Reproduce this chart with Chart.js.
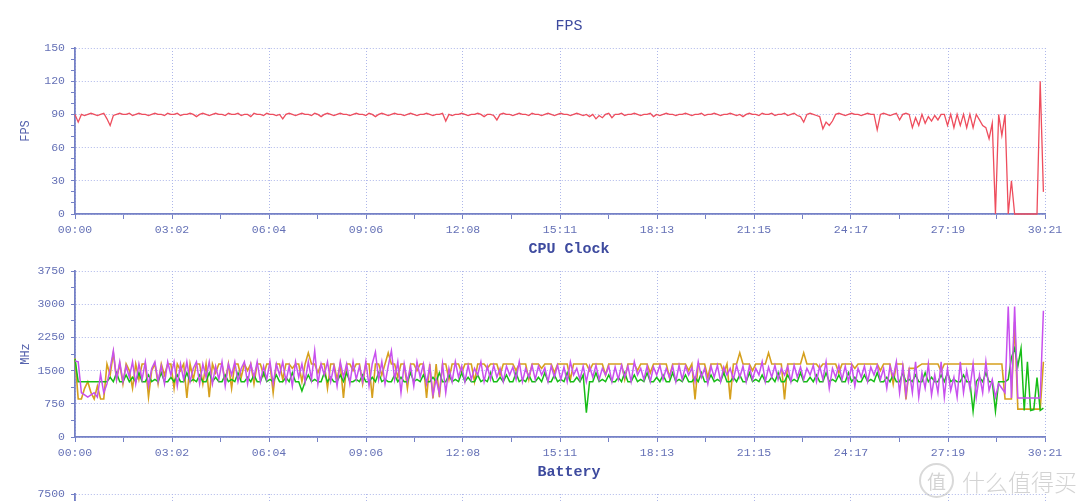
<!DOCTYPE html>
<html><head><meta charset="utf-8">
<script src="https://cdn.jsdelivr.net/npm/chart.js@4"></script>
<style>
html,body{margin:0;padding:0;background:#fff;width:1080px;height:501px;overflow:hidden;position:relative;}
.box{position:absolute;left:0;width:1080px;height:240px;}
#wm{position:absolute;left:919px;top:463px;display:flex;align-items:center;color:rgba(150,150,150,0.42);font-family:'Noto Sans CJK SC',sans-serif;}
#wm .c{width:31px;height:31px;border:2px solid rgba(170,170,170,0.45);border-radius:50%;font-size:19px;line-height:31px;text-align:center;margin-right:8px;}
#wm .t{font-size:23px;letter-spacing:0px;font-weight:300;}
</style></head><body>
<div class="box" style="top:0"><canvas id="c1"></canvas></div>
<div class="box" style="top:223px"><canvas id="c2"></canvas></div>
<div class="box" style="top:446px"><canvas id="c3"></canvas></div>
<div id="wm"><span class="c">值</span><span class="t">什么值得买</span></div>
<script>
// ---- data ----
const DURATION = 1821;          // seconds (30:21)
const STEP = 6;                 // sample interval, seconds
const xTickLabels = ['00:00','03:02','06:04','09:06','12:08','15:11','18:13','21:15','24:17','27:19','30:21'];
const fpsYTicks = [0,30,60,90,120,150];
const cpuYTicks = [0,750,1500,2250,3000,3750];
const batYTicks = [0,1500,3000,4500,6000,7500];

const fps = [
90,83,90,89,90,91,90,89,90,91,
86,80,89,90,91,90,90,91,89,90,
91,90,90,89,90,91,90,90,89,91,
90,90,91,89,90,90,91,90,88,90,
91,90,89,90,91,90,90,89,91,90,
90,91,89,90,90,88,91,90,90,89,
91,90,90,89,90,86,90,91,90,89,
90,91,90,90,89,91,90,88,90,91,
90,89,90,91,90,90,89,90,91,90,
90,89,91,90,88,90,91,90,89,90,
91,90,90,89,90,91,90,89,90,90,
91,90,89,90,90,91,84,90,89,90,
90,91,90,89,90,90,91,90,88,90,
90,89,85,90,91,90,90,89,90,91,
90,90,89,91,90,90,89,90,91,90,
89,90,91,90,90,89,90,91,90,89,
90,88,90,86,89,87,90,91,87,90,
90,91,89,90,90,91,90,89,90,90,
91,88,90,89,90,91,90,90,89,90,
90,91,90,89,90,90,91,89,90,90,
91,90,89,90,90,91,90,89,90,88,
90,91,90,90,89,91,90,90,91,89,
90,90,91,89,90,91,89,88,83,90,
91,90,89,88,77,83,80,84,90,91,
90,89,90,91,90,90,89,90,91,90,
90,76,90,91,90,89,90,91,85,90,
91,90,78,87,80,90,82,88,84,89,
85,90,90,80,90,78,90,80,90,78,
90,78,90,85,80,78,68,82,0,90,
71,90,0,30,0,0,0,0,0,0,
0,0,120,20];

const cpuGold = [
1780,860,860,1100,1250,1000,860,1150,860,860,
1650,1400,1900,1300,1650,1200,1650,1500,1100,1650,
1300,1650,1650,900,1500,1650,1200,1650,1400,1650,
1650,1100,1650,1500,1650,880,1650,1300,1650,1650,
1200,1650,900,1650,1450,1650,1650,1250,1650,1100,
1650,1650,1350,1650,1500,1650,1200,1650,1650,1400,
1650,1650,1000,1650,1650,1300,1650,1650,1550,1650,
1650,1250,1650,1900,1650,1650,1450,1650,1650,1100,
1650,1650,1300,1650,880,1650,1650,1500,1650,1650,
1200,1650,1650,880,1650,1650,1400,1650,1900,1650,
1650,1350,1650,1650,1100,1650,1650,1500,1650,1650,
880,1650,870,1650,900,1650,1650,1300,1650,1650,
1650,1450,1650,1650,1650,1250,1650,1650,1650,1550,
1650,1650,1650,1400,1650,1650,1650,1650,1500,1650,
1650,1650,1300,1650,1650,1650,1550,1650,1650,1650,
1450,1650,1650,1650,1650,1300,1650,1650,1650,1650,
1650,1500,1650,1650,1650,1650,1400,1650,1650,1650,
1650,1650,1300,1650,1650,1650,1500,1650,1650,1650,
1450,1650,1650,1650,1650,1650,1350,1650,1650,1650,
1650,1650,1500,1650,850,1650,1650,1650,1350,1650,
1650,1650,1650,1450,1650,850,1650,1650,1900,1650,
1650,1650,1500,1650,1650,1650,1650,1900,1650,1650,
1650,1650,850,1650,1650,1650,1650,1650,1900,1650,
1650,1650,1650,1550,1650,1650,1650,1650,1650,1450,
1650,1650,1650,1650,1550,1650,1650,1650,1650,1650,
1650,1650,1500,1650,1650,1650,1200,1650,1650,1650,
850,1550,1550,1550,1600,1650,1650,1650,1650,1650,
1650,1480,1650,1650,1650,1650,1650,1650,1650,1650,
1650,1650,1650,1650,1650,1650,1650,1650,1650,1650,
1650,860,860,860,2600,630,630,630,630,630,
630,630,630,1700];

const cpuViolet = [
1720,1700,1000,950,900,950,1000,900,1420,1000,
1200,1550,1950,1300,1700,1250,1600,1350,1700,1200,
1650,1300,1700,1150,1550,1700,1250,1600,1200,1700,
1400,1700,1150,1650,1300,1700,1250,1550,1700,1200,
1650,1350,1700,1200,1600,1300,1700,1150,1650,1400,
1700,1250,1550,1700,1200,1650,1350,1700,1250,1600,
1300,1700,1200,1650,1400,1700,1250,1600,1150,1700,
1350,1650,1250,1700,1300,1950,1200,1650,1400,1700,
1250,1600,1150,1700,1350,1650,1200,1700,1300,1600,
1250,1700,1150,1650,1920,1300,1700,1200,1600,1950,
1300,1700,1000,1650,1250,1600,1150,1700,1350,1650,
1200,1600,950,1300,980,1650,1000,1550,1250,1700,
1350,1600,1250,1620,1300,1550,1400,1700,1250,1600,
1300,1620,1350,1550,1250,1600,1400,1580,1300,1700,
1250,1550,1350,1620,1300,1600,1400,1560,1250,1600,
1350,1620,1300,1580,1250,1700,1400,1550,1300,1600,
1250,1600,1350,1620,1300,1550,1400,1600,1250,1580,
1300,1620,1350,1600,1250,1700,1400,1550,1300,1600,
1250,1580,1400,1620,1300,1550,1350,1600,1250,1620,
1300,1600,1400,1560,1250,1700,1350,1550,1200,1600,
1350,1620,1250,1580,1400,1550,1300,1620,1350,1600,
1250,1600,1300,1550,1400,1700,1250,1580,1350,1620,
1300,1550,1400,1600,1250,1620,1350,1580,1300,1550,
1400,1620,1250,1600,1300,1700,1100,1550,1350,1620,
1300,1600,1250,1620,1150,1550,1350,1600,1250,1580,
1400,1620,1300,1550,1100,1600,1350,1700,1000,1600,
950,1500,1000,1700,900,1450,1100,1650,950,1400,
1000,1700,900,1550,1050,1350,900,1700,1000,1500,
1100,1650,900,1400,1000,1700,1050,1300,900,1200,
1100,1000,2950,880,2950,880,880,880,880,880,
880,880,880,2850];

const cpuGreen = [
1760,1250,1250,1250,1250,1250,1250,1250,1250,1250,
1250,1350,1250,1450,1250,1250,1400,1250,1350,1250,
1450,1250,1250,1400,1250,1300,1250,1450,1250,1250,
1350,1250,1400,1250,1250,1450,1250,1300,1250,1400,
1250,1250,1450,1250,1350,1250,1250,1400,1250,1300,
1250,1450,1250,1250,1350,1250,1400,1250,1250,1450,
1250,1300,1250,1400,1250,1250,1350,1250,1450,1250,
1250,1040,1250,1400,1250,1300,1250,1250,1450,1250,
1350,1250,1250,1400,1250,1450,1250,1250,1300,1250,
1400,1250,1250,1350,1250,1450,1250,1300,1250,1250,
1400,1250,1350,1250,1250,1450,1250,1300,1250,1400,
1250,1250,1350,1250,1450,1250,1250,1400,1250,1300,
1250,1450,1250,1350,1250,1250,1400,1250,1300,1250,
1450,1250,1250,1350,1250,1400,1250,1250,1450,1250,
1300,1250,1400,1250,1250,1350,1250,1450,1250,1250,
1400,1250,1300,1250,1450,1250,1250,1350,1250,1400,
550,1250,1250,1450,1250,1300,1250,1400,1250,1250,
1350,1250,1450,1250,1250,1400,1250,1300,1250,1450,
1250,1250,1350,1250,1400,1250,1250,1450,1250,1300,
1250,1400,1250,1250,1350,1250,1450,1250,1250,1400,
1250,1300,1250,1450,1250,1250,1350,1250,1400,1250,
1250,1450,1250,1300,1250,1400,1250,1250,1350,1250,
1450,1250,1250,1400,1250,1300,1250,1450,1250,1250,
1350,1250,1400,1250,1250,1450,1250,1300,1250,1400,
1250,1250,1450,1250,1350,1250,1250,1400,1250,1300,
1250,1450,1250,1250,1350,1250,1400,1250,1250,1450,
1250,1300,1250,1400,1250,1250,1450,1250,1350,1250,
1250,1400,1250,1450,1250,1300,1250,1250,1400,1250,
1250,580,1250,1350,1250,1450,1250,1250,580,1250,
1250,1250,1300,1800,2000,1600,2000,600,1700,600,
620,1340,600,650];

// ---- styling ----
const AXIS = '#7581c6', GRID = '#aeb7ea', TICK = '#6571b6', TITLE = '#3e4b9f';
const MONO = "'Liberation Mono','DejaVu Sans Mono',monospace";
const NONE = 'rgba(0,0,0,0)';
const pts = arr => arr.map((v, i) => ({x: i * STEP, y: v}));

function xScale(){
  const n = (xTickLabels.length - 1) * 2;
  return {
    type: 'linear', min: 0, max: DURATION,
    afterBuildTicks(s){ const t = []; for (let i = 0; i <= n; i++) t.push({value: i * DURATION / n}); s.ticks = t; },
    afterFit(s){ s.height = 26; },
    ticks: {autoSkip: false, maxRotation: 0, padding: 4, color: TICK,
      font: {family: MONO, size: 11.5},
      callback: (v, i) => i % 2 === 0 ? xTickLabels[i/2] : ''},
    grid: {color: c => c.index % 2 === 0 ? GRID : NONE, tickColor: AXIS, tickLength: 5, lineWidth: 1},
    border: {color: AXIS, width: 1.8, dash: [1, 2]}
  };
}
function yScale(ticks, minorStep, title){
  return {
    type: 'linear', min: 0, max: ticks[ticks.length-1],
    afterFit(s){ s.width = 75; },
    ticks: {stepSize: minorStep, autoSkip: false, padding: 6, color: TICK,
      font: {family: MONO, size: 11.5},
      callback: v => ticks.includes(v) ? String(v) : ''},
    grid: {color: c => ticks.includes(c.tick.value) ? GRID : NONE, tickColor: AXIS, tickLength: 4, lineWidth: 1},
    border: {color: AXIS, width: 1.8, dash: [1, 2]},
    title: {display: !!title, text: title || '', color: '#5663ad',
      font: {family: MONO, size: 12}, padding: {top: 19, bottom: 0}}
  };
}
const panelTitle = {
  id: 'panelTitle',
  afterDraw(chart, args, opts){
    const ctx = chart.ctx;
    ctx.save();
    ctx.fillStyle = TITLE;
    ctx.font = (opts.bold ? 'bold ' : '') + '15px ' + MONO;
    ctx.textAlign = 'center';
    ctx.textBaseline = 'middle';
    ctx.fillText(opts.text, 569, 26);
    ctx.restore();
  }
};
function baseOptions(title, bold, yS){
  return {
    responsive: true, maintainAspectRatio: false, animation: false,
    layout: {padding: {top: 48, right: 35, left: 0, bottom: 0}},
    elements: {point: {radius: 0}, line: {tension: 0}},
    plugins: {legend: {display: false}, tooltip: {enabled: false}, title: {display: false},
      panelTitle: {text: title, bold: bold}},
    scales: {x: xScale(), y: yS}
  };
}

new Chart(document.getElementById('c1'), {
  type: 'line',
  data: {datasets: [{label: 'FPS', data: pts(fps), borderColor: '#ee4d5d', borderWidth: 1.3, clip: 3}]},
  options: baseOptions('FPS', false, yScale(fpsYTicks, 10, 'FPS')),
  plugins: [panelTitle]
});

new Chart(document.getElementById('c2'), {
  type: 'line',
  data: {datasets: [
    {label: 'CPU Big', data: pts(cpuViolet), borderColor: '#c850ee', borderWidth: 1.5, order: 1, clip: 3},
    {label: 'CPU Little', data: pts(cpuGreen), borderColor: '#16bd16', borderWidth: 1.5, order: 2, clip: 3},
    {label: 'CPU Mid', data: pts(cpuGold), borderColor: '#d6a01e', borderWidth: 1.6, order: 3, clip: 3}
  ]},
  options: baseOptions('CPU Clock', true, yScale(cpuYTicks, 375, 'MHz')),
  plugins: [panelTitle]
});

new Chart(document.getElementById('c3'), {
  type: 'line',
  data: {datasets: []},
  options: baseOptions('Battery', true, yScale(batYTicks, 750, '')),
  plugins: [panelTitle]
});
</script>
</body></html>
